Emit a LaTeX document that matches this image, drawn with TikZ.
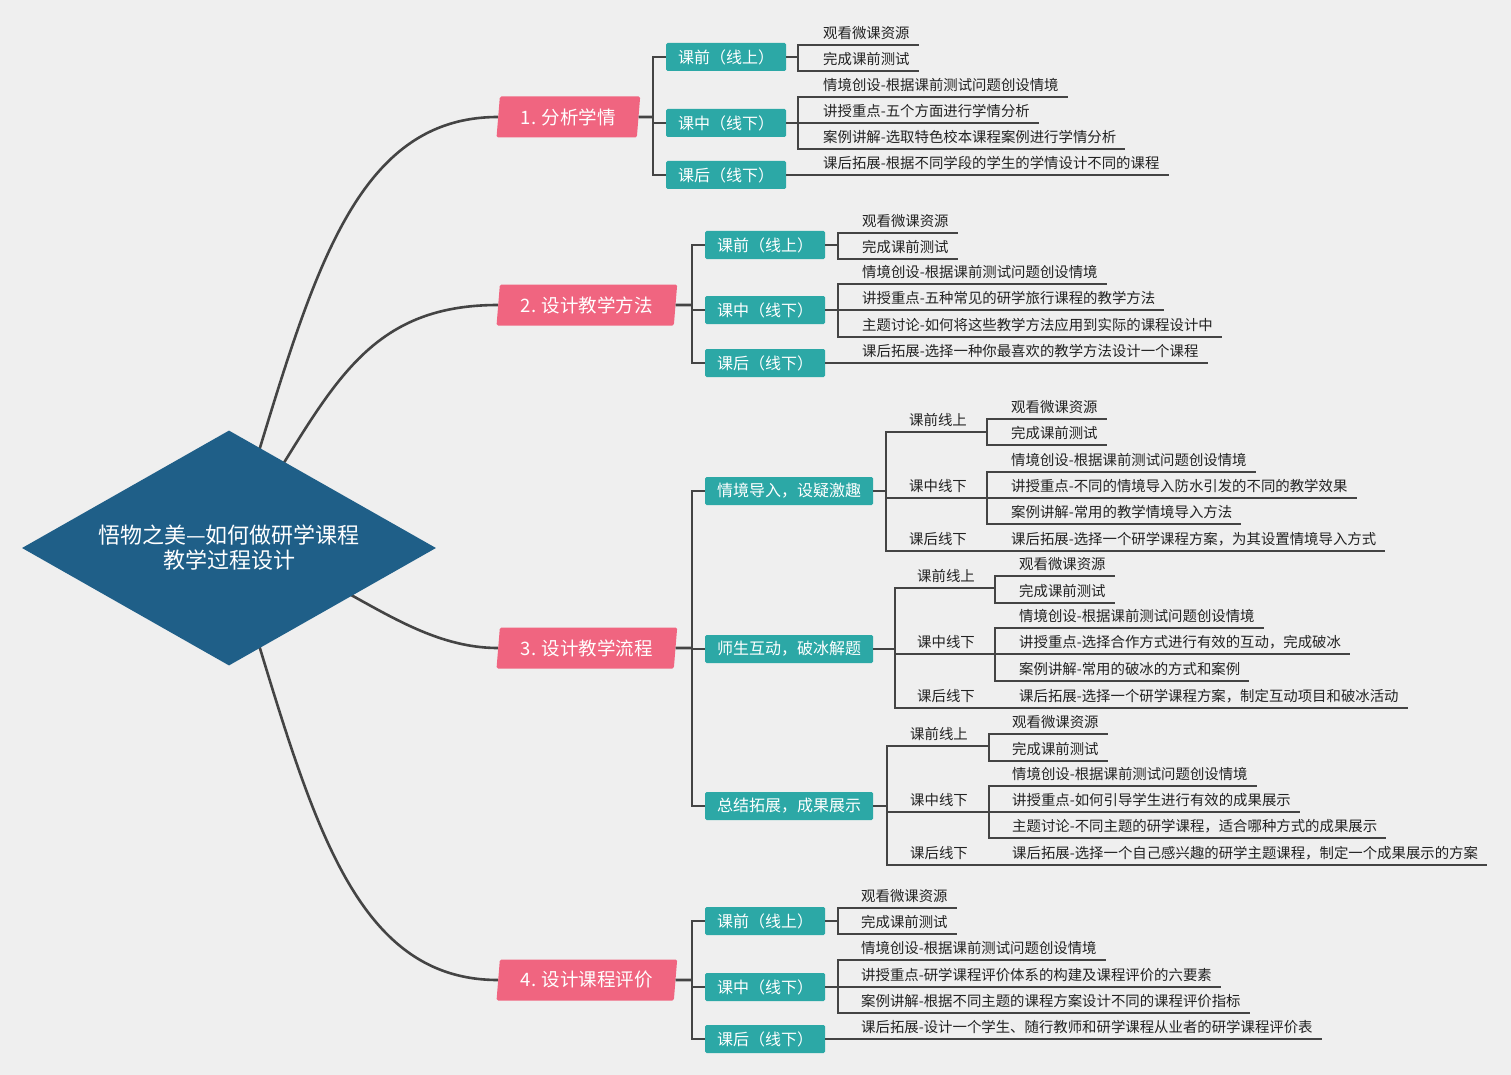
\documentclass[tikz,border=0pt]{standalone}
\usepackage{fontspec}
\setmainfont{Noto Sans CJK SC}
\usetikzlibrary{shapes.geometric,backgrounds}
\definecolor{bgc}{HTML}{EFEFEF}
\definecolor{rootc}{HTML}{1F5F88}
\definecolor{pinkc}{HTML}{F06580}
\definecolor{tealc}{HTML}{2CA8A6}
\definecolor{lnc}{HTML}{444444}
\definecolor{txtc}{HTML}{222222}

\begin{document}
\begin{tikzpicture}[x=1pt, y=-1pt,
    ln/.style={draw=lnc, line width=2.6pt},
    root/.style={diamond, aspect=1.76, fill=rootc, text=white, minimum width=414pt, minimum height=235pt, inner sep=0pt, align=center, font=\fontsize{22}{25}\selectfont},
    topic/.style={trapezium, trapezium left angle=82, trapezium right angle=98, trapezium stretches=true, fill=pinkc, text=white, minimum height=41pt, inner xsep=21pt, anchor=west, rounded corners=1.5pt, font=\fontsize{18.5}{20}\selectfont},
    sub/.style={fill=tealc, text=white, minimum height=28pt, inner xsep=12pt, anchor=west, rounded corners=1.5pt, font=\fontsize{16}{18}\selectfont},
    leaf/.style={anchor=south west, inner sep=0pt, text height=11pt, text depth=6pt, text=txtc, font=\fontsize{14.4}{16}\selectfont}
]
\useasboundingbox (0,0) rectangle (1511,1075);

\node[root] (root) at (229,548) {悟物之美—如何做研学课程\\教学过程设计};

% 1
\node[topic] (p1) at (498,117) {1. 分析学情};
\coordinate (j1) at (653,117);
\node[sub] (s11) at (666,57) {课前（线上）};
\node[sub] (s12) at (666,123) {课中（线下）};
\node[sub] (s13) at (666,175) {课后（线下）};
\coordinate (k11) at (798,57);
\coordinate (k12) at (798,123);
\coordinate (k13) at (798,175);
\node[leaf] (l111) at (823,45) {观看微课资源};
\node[leaf] (l112) at (823,71) {完成课前测试};
\node[leaf] (l121) at (823,97) {情境创设-根据课前测试问题创设情境};
\node[leaf] (l122) at (823,123) {讲授重点-五个方面进行学情分析};
\node[leaf] (l123) at (823,149) {案例讲解-选取特色校本课程案例进行学情分析};
\node[leaf] (l131) at (823,175) {课后拓展-根据不同学段的学生的学情设计不同的课程};

\draw[ln] (p1) -- (j1);
\draw[ln] (j1) |- (s11.west);
\draw[ln] (j1) |- (s12.west);
\draw[ln] (j1) |- (s13.west);
\draw[ln] (s11) -- (k11);
\draw[ln] (s12) -- (k12);
\draw[ln] (s13) -- (k13);
\draw[ln] (k11) |- ([xshift=9pt]l111.south east);
\draw[ln] (k11) |- ([xshift=9pt]l112.south east);
\draw[ln] (k12) |- ([xshift=9pt]l121.south east);
\draw[ln] (k12) |- ([xshift=9pt]l122.south east);
\draw[ln] (k12) |- ([xshift=9pt]l123.south east);
\draw[ln] (k13) |- ([xshift=9pt]l131.south east);

% 2
\node[topic] (p2) at (498,305) {2. 设计教学方法};
\coordinate (j2) at (692,305);
\node[sub] (s21) at (705,245) {课前（线上）};
\node[sub] (s22) at (705,310) {课中（线下）};
\node[sub] (s23) at (705,363) {课后（线下）};
\coordinate (k21) at (838,245);
\coordinate (k22) at (838,310);
\coordinate (k23) at (838,363);
\node[leaf] (l211) at (862,233) {观看微课资源};
\node[leaf] (l212) at (862,259) {完成课前测试};
\node[leaf] (l221) at (862,284) {情境创设-根据课前测试问题创设情境};
\node[leaf] (l222) at (862,310) {讲授重点-五种常见的研学旅行课程的教学方法};
\node[leaf] (l223) at (862,337) {主题讨论-如何将这些教学方法应用到实际的课程设计中};
\node[leaf] (l231) at (862,363) {课后拓展-选择一种你最喜欢的教学方法设计一个课程};

\draw[ln] (p2) -- (j2);
\draw[ln] (j2) |- (s21.west);
\draw[ln] (j2) |- (s22.west);
\draw[ln] (j2) |- (s23.west);
\draw[ln] (s21) -- (k21);
\draw[ln] (s22) -- (k22);
\draw[ln] (s23) -- (k23);
\draw[ln] (k21) |- ([xshift=9pt]l211.south east);
\draw[ln] (k21) |- ([xshift=9pt]l212.south east);
\draw[ln] (k22) |- ([xshift=9pt]l221.south east);
\draw[ln] (k22) |- ([xshift=9pt]l222.south east);
\draw[ln] (k22) |- ([xshift=9pt]l223.south east);
\draw[ln] (k23) |- ([xshift=9pt]l231.south east);

% 3
\node[topic] (p3) at (498,648) {3. 设计教学流程};
\coordinate (j3) at (692,648);
\node[sub] (s31) at (705,491) {情境导入，设疑激趣};
\node[sub] (s32) at (705,649) {师生互动，破冰解题};
\node[sub] (s33) at (705,806) {总结拓展，成果展示};
\coordinate (m31) at (886,491);
\coordinate (m32) at (895,649);
\coordinate (m33) at (887,806);

\node[leaf] (u311) at (909,432) {课前线上};
\node[leaf] (u312) at (909,498) {课中线下};
\node[leaf] (u313) at (909,551) {课后线下};
\coordinate (k311) at (987,432);
\coordinate (k312) at (987,498);
\coordinate (k313) at (987,551);
\node[leaf] (l3111) at (1011,419) {观看微课资源};
\node[leaf] (l3112) at (1011,445) {完成课前测试};
\node[leaf] (l3121) at (1011,472) {情境创设-根据课前测试问题创设情境};
\node[leaf] (l3122) at (1011,498) {讲授重点-不同的情境导入防水引发的不同的教学效果};
\node[leaf] (l3123) at (1011,524) {案例讲解-常用的教学情境导入方法};
\node[leaf] (l3131) at (1011,551) {课后拓展-选择一个研学课程方案，为其设置情境导入方式};

\node[leaf] (u321) at (917,588) {课前线上};
\node[leaf] (u322) at (917,654) {课中线下};
\node[leaf] (u323) at (917,708) {课后线下};
\coordinate (k321) at (995,588);
\coordinate (k322) at (995,654);
\coordinate (k323) at (995,708);
\node[leaf] (l3211) at (1019,576) {观看微课资源};
\node[leaf] (l3212) at (1019,603) {完成课前测试};
\node[leaf] (l3221) at (1019,628) {情境创设-根据课前测试问题创设情境};
\node[leaf] (l3222) at (1019,654) {讲授重点-选择合作方式进行有效的互动，完成破冰};
\node[leaf] (l3223) at (1019,681) {案例讲解-常用的破冰的方式和案例};
\node[leaf] (l3231) at (1019,708) {课后拓展-选择一个研学课程方案，制定互动项目和破冰活动};

\node[leaf] (u331) at (910,746) {课前线上};
\node[leaf] (u332) at (910,812) {课中线下};
\node[leaf] (u333) at (910,865) {课后线下};
\coordinate (k331) at (989,746);
\coordinate (k332) at (989,812);
\coordinate (k333) at (989,865);
\node[leaf] (l3311) at (1012,734) {观看微课资源};
\node[leaf] (l3312) at (1012,761) {完成课前测试};
\node[leaf] (l3321) at (1012,786) {情境创设-根据课前测试问题创设情境};
\node[leaf] (l3322) at (1012,812) {讲授重点-如何引导学生进行有效的成果展示};
\node[leaf] (l3323) at (1012,838) {主题讨论-不同主题的研学课程，适合哪种方式的成果展示};
\node[leaf] (l3331) at (1012,865) {课后拓展-选择一个自己感兴趣的研学主题课程，制定一个成果展示的方案};

\draw[ln] (p3) -- (j3);
\draw[ln] (j3) |- (s31.west);
\draw[ln] (j3) |- (s32.west);
\draw[ln] (j3) |- (s33.west);
\draw[ln] (s31) -- (m31);
\draw[ln] (s32) -- (m32);
\draw[ln] (s33) -- (m33);
\draw[ln] (m31) |- (k311);
\draw[ln] (m31) |- (k312);
\draw[ln] (m31) |- (k313);
\draw[ln] (m32) |- (k321);
\draw[ln] (m32) |- (k322);
\draw[ln] (m32) |- (k323);
\draw[ln] (m33) |- (k331);
\draw[ln] (m33) |- (k332);
\draw[ln] (m33) |- (k333);
\draw[ln] (k311) |- ([xshift=9pt]l3111.south east);
\draw[ln] (k311) |- ([xshift=9pt]l3112.south east);
\draw[ln] (k312) |- ([xshift=9pt]l3121.south east);
\draw[ln] (k312) |- ([xshift=9pt]l3122.south east);
\draw[ln] (k312) |- ([xshift=9pt]l3123.south east);
\draw[ln] (k313) |- ([xshift=9pt]l3131.south east);
\draw[ln] (k321) |- ([xshift=9pt]l3211.south east);
\draw[ln] (k321) |- ([xshift=9pt]l3212.south east);
\draw[ln] (k322) |- ([xshift=9pt]l3221.south east);
\draw[ln] (k322) |- ([xshift=9pt]l3222.south east);
\draw[ln] (k322) |- ([xshift=9pt]l3223.south east);
\draw[ln] (k323) |- ([xshift=9pt]l3231.south east);
\draw[ln] (k331) |- ([xshift=9pt]l3311.south east);
\draw[ln] (k331) |- ([xshift=9pt]l3312.south east);
\draw[ln] (k332) |- ([xshift=9pt]l3321.south east);
\draw[ln] (k332) |- ([xshift=9pt]l3322.south east);
\draw[ln] (k332) |- ([xshift=9pt]l3323.south east);
\draw[ln] (k333) |- ([xshift=9pt]l3331.south east);

% 4
\node[topic] (p4) at (498,980) {4. 设计课程评价};
\coordinate (j4) at (692,980);
\node[sub] (s41) at (705,921) {课前（线上）};
\node[sub] (s42) at (705,987) {课中（线下）};
\node[sub] (s43) at (705,1039) {课后（线下）};
\coordinate (k41) at (838,921);
\coordinate (k42) at (838,987);
\coordinate (k43) at (838,1039);
\node[leaf] (l411) at (861,908) {观看微课资源};
\node[leaf] (l412) at (861,934) {完成课前测试};
\node[leaf] (l421) at (861,960) {情境创设-根据课前测试问题创设情境};
\node[leaf] (l422) at (861,987) {讲授重点-研学课程评价体系的构建及课程评价的六要素};
\node[leaf] (l423) at (861,1013) {案例讲解-根据不同主题的课程方案设计不同的课程评价指标};
\node[leaf] (l431) at (861,1039) {课后拓展-设计一个学生、随行教师和研学课程从业者的研学课程评价表};

\draw[ln] (p4) -- (j4);
\draw[ln] (j4) |- (s41.west);
\draw[ln] (j4) |- (s42.west);
\draw[ln] (j4) |- (s43.west);
\draw[ln] (s41) -- (k41);
\draw[ln] (s42) -- (k42);
\draw[ln] (s43) -- (k43);
\draw[ln] (k41) |- ([xshift=9pt]l411.south east);
\draw[ln] (k41) |- ([xshift=9pt]l412.south east);
\draw[ln] (k42) |- ([xshift=9pt]l421.south east);
\draw[ln] (k42) |- ([xshift=9pt]l422.south east);
\draw[ln] (k42) |- ([xshift=9pt]l423.south east);
\draw[ln] (k43) |- ([xshift=9pt]l431.south east);

\begin{scope}[on background layer]
\fill[bgc] (0,0) rectangle (1511,1075);
\draw[ln] (root.center) .. controls (305,310) and (340,117) .. (p1.west);
\draw[ln] (root.center) .. controls (325,410) and (350,305) .. (p2.west);
\draw[ln] (root.center) .. controls (330,560) and (400,648) .. (p3.west);
\draw[ln] (root.center) .. controls (305,786) and (340,980) .. (p4.west);
\end{scope}
\end{tikzpicture}
\end{document}
